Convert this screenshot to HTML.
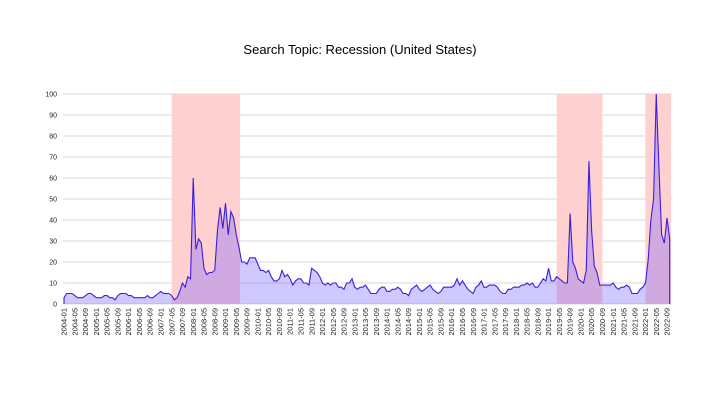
<!DOCTYPE html>
<html><head><meta charset="utf-8"><style>
html,body{margin:0;padding:0;background:#fff;width:720px;height:405px;overflow:hidden}
svg{display:block;font-family:"Liberation Sans",sans-serif}
</style></head><body>
<svg id="chart" width="720" height="405">
<text x="360" y="54" text-anchor="middle" font-size="13" fill="#000">Search Topic: Recession (United States)</text>
<g id="grid"></g><g id="shades"></g><g id="series"></g><g id="yaxis"></g><g id="xaxis"></g>
</svg>
<script>
const startYear = 2004;
const values = [
3,5,5,5,4,3,3,3,4,5,5,4,
3,3,3,4,4,3,3,2,4,5,5,5,
4,4,3,3,3,3,3,4,3,3,4,5,
6,5,5,5,4,2,3,6,10,8,13,12,
60,26,31,29,17,14,15,15,16,35,46,36,
48,33,44,41,33,27,20,20,19,22,22,22,
19,16,16,15,16,13,11,11,12,16,13,14,
12,9,11,12,12,10,10,9,17,16,15,13,
10,9,10,9,10,10,8,8,7,10,10,12,
8,7,8,8,9,7,5,5,5,7,8,8,
6,6,7,7,8,7,5,5,4,7,8,9,
7,6,7,8,9,7,6,5,6,8,8,8,
8,9,12,9,11,9,7,6,5,8,9,11,
8,8,9,9,9,8,6,5,5,7,7,8,
8,8,9,9,10,9,10,8,8,10,12,11,
17,11,11,13,12,11,10,10,43,20,17,12,
11,10,16,68,35,18,15,9,9,9,9,9,
10,8,7,8,8,9,8,5,5,5,7,8,
10,21,40,50,100,65,33,29,41,31
];
const recessionStart = [40, 183, 216];
const recessionEnd = [65.4, 200, 225.5];
const yTicks = [0,10,20,30,40,50,60,70,80,90,100];

const NS="http://www.w3.org/2000/svg";
const x0=64, pxm=2.692, yb=304, ph=210, xr=672;
const X=i=>x0+i*pxm, Y=v=>yb-v/100*ph;
function mk(t,a,p){const e=document.createElementNS(NS,t);for(const k in a)e.setAttribute(k,a[k]);p.appendChild(e);return e;}
const grid=document.getElementById('grid'), ya=document.getElementById('yaxis');
yTicks.forEach(v=>{
 const l=mk('line',{x1:63,x2:xr,y1:Y(v),y2:Y(v),stroke:'#d9d9d9','stroke-width':1},grid);
 
 
 const t=mk('text',{x:57,y:Y(v)+2.5,'text-anchor':'end','font-size':7,fill:'#222'},ya);
 t.textContent=v;
 
 
});
const sh=document.getElementById('shades');
recessionStart.forEach((s,k)=>{
 const r=mk('rect',{x:X(s),y:Y(100),width:Math.min(X(recessionEnd[k]),xr)-X(s),height:ph,fill:'#ffd0d0'},sh);
 
 
});
const ser=document.getElementById('series');
let d='M'+X(0)+','+yb;
values.forEach((v,i)=>{d+=' L'+X(i).toFixed(2)+','+Y(v).toFixed(2);});
d+=' L'+X(values.length-1).toFixed(2)+','+yb;
const area=mk('path',{d:d+' Z',fill:'rgba(110,90,255,0.33)',stroke:'none'},ser);


const line=mk('path',{d:d,fill:'none',stroke:'#3a1fe0','stroke-width':1.1},ser);


const xa=document.getElementById('xaxis');
for(let i=0;i<values.length;i+=4){
 const yr=startYear+Math.floor(i/12), m=i%12+1;
 const lab=yr+'-'+(m<10?'0':'')+m;
 const t=mk('text',{x:0,y:0,'text-anchor':'end','font-size':7.5,fill:'#222',transform:'translate('+(X(i)+2.6)+',308) rotate(-90)'},xa);
 t.textContent=lab;
 
 
}
</script>
</body></html>
